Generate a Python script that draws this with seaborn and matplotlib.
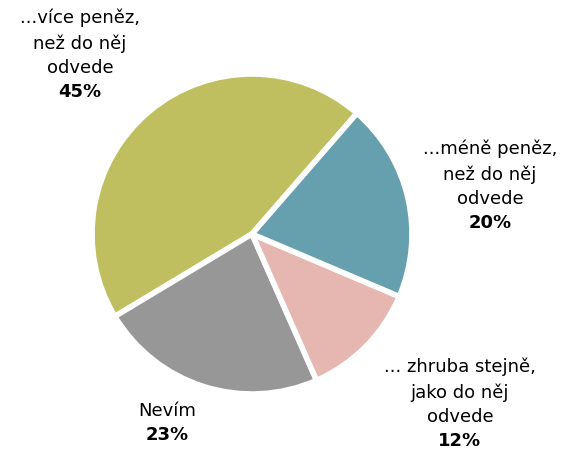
import matplotlib
matplotlib.use("Agg")
import matplotlib.pyplot as plt
import seaborn as sns

# data (counter-clockwise order, starting at the upper right)
odpovedi = ["...více peněz,\nnež do něj\nodvede", "Nevím",
            "... zhruba stejně,\njako do něj\nodvede",
            "...méně peněz,\nnež do něj\nodvede"]
podily = [45, 23, 12, 20]
barvy = ["#C0BF60", "#979797", "#E6B6B0", "#669FAD"]

# label anchor (x, baseline of the percent line) in pixels from top-left
popisky_px = [(80, 97), (167, 440), (460, 446), (490, 228)]

sns.set_style("white")
plt.rcParams["font.family"] = ["DejaVu Sans"]

W, H = 561, 449
fig = plt.figure(figsize=(W / 100, H / 100), dpi=100)
cx, cy, r = 252, 234, 160
ax = fig.add_axes([(cx - r) / W, (H - cy - r) / H, 2 * r / W, 2 * r / H])

ax.pie(podily, colors=barvy, startangle=49, counterclock=True,
       wedgeprops=dict(edgecolor="white", linewidth=4, joinstyle="round"))
ax.set_xlim(-1, 1)
ax.set_ylim(-1, 1)
ax.set_aspect("equal")
ax.axis("off")

krok = 23.7
for text, p, (x, y) in zip(odpovedi, podily, popisky_px):
    fig.text(x / W, 1 - y / H, f"{p}%", ha="center", va="baseline",
             fontsize=13, fontweight="bold", color="black")
    fig.text(x / W, 1 - (y - krok) / H, text, ha="center", va="baseline",
             fontsize=13, color="black", linespacing=1.48,
             multialignment="center")

fig.savefig("out.png", dpi=100, facecolor="white")
